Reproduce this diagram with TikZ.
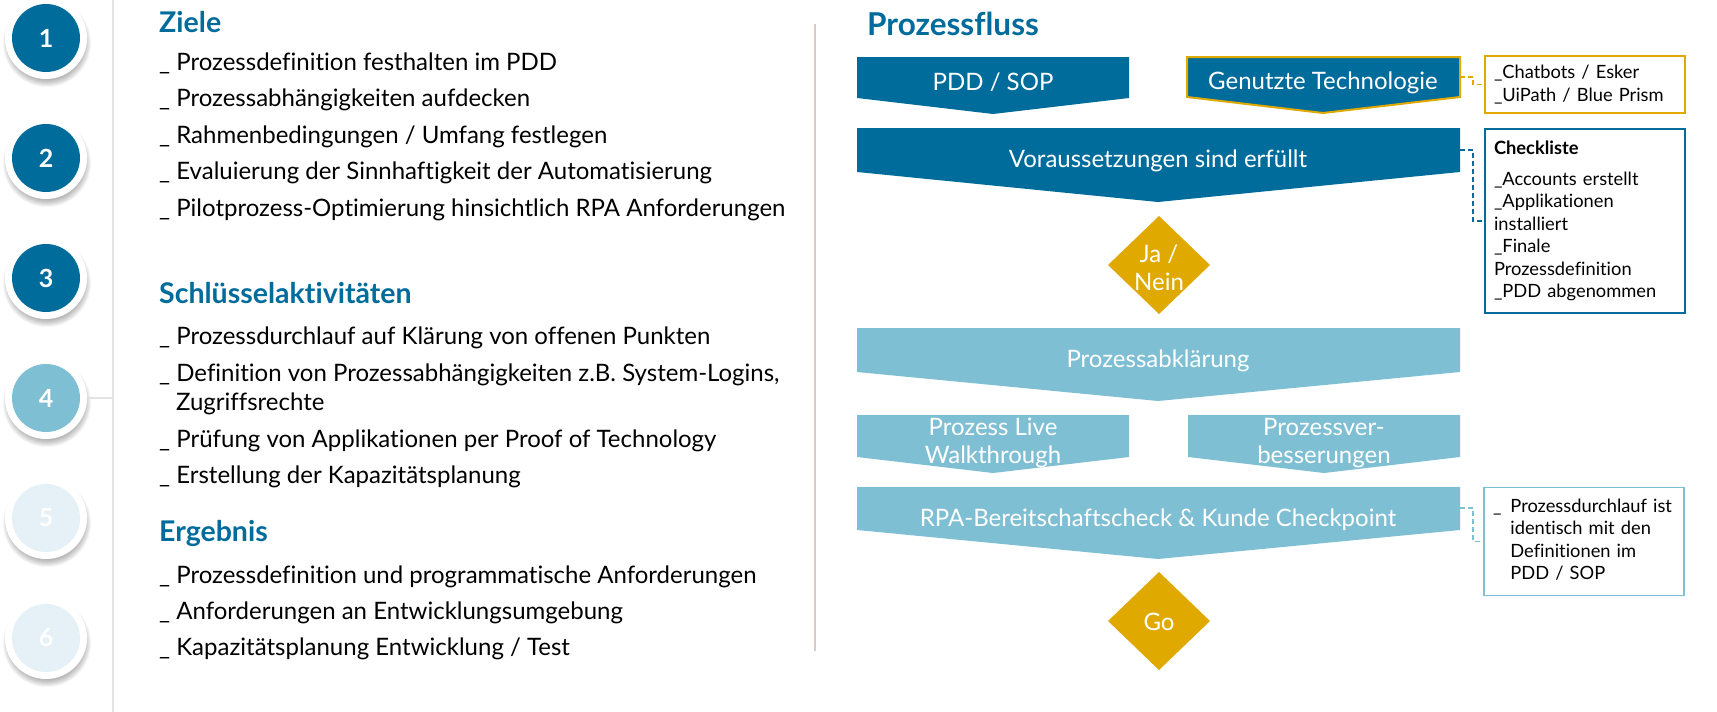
\documentclass[tikz,border=0pt]{standalone}
\usepackage{fontspec}
\setmainfont{Lato}[Ligatures=NoCommon]
\usetikzlibrary{calc}

\definecolor{dblue}{RGB}{0,108,156}
\definecolor{lblue}{RGB}{127,191,212}
\definecolor{pale}{RGB}{229,241,246}
\definecolor{gold}{RGB}{224,169,0}
\definecolor{sepline}{RGB}{214,204,192}

\begin{document}
\begin{tikzpicture}[x=1pt,y=-1pt,
  boxtext/.style={text=white, align=center, font=\fontsize{24}{28}\selectfont},
  itemtext/.style={anchor=base west, inner sep=0pt, font=\fontsize{24}{28}\selectfont},
  heading/.style={anchor=base west, inner sep=0pt, text=dblue, font=\fontsize{28.5}{32}\selectfont\bfseries},
  note/.style={line width=1.5pt, fill=white, minimum width=200pt, text width=182pt,
    inner sep=9pt, align=left, font=\fontsize{18.3}{22.5}\selectfont},
  link/.style={line width=1.5pt, dash pattern=on 5pt off 3pt}]

% the page
\useasboundingbox (0,0) rectangle (1717,712);
\fill[white] (0,0) rectangle (1717,712);

% the lines
\draw[gray!22, line width=1.5pt] (113,0) -- (113,712);
\draw[sepline, line width=2pt] (815,24) -- (815,651);

% the step circles
\foreach \n/\c in {1/dblue,2/dblue,3/dblue,4/lblue,5/pale,6/pale} {
  \coordinate (c\n) at (46,{38+120*(\n-1)});
  \foreach \k in {0,...,7}
    \fill[black, opacity=0.04] ($(c\n)+(1,5)$) circle ({37+\k});
  \fill[white] (c\n) circle (41);
  \node[circle, fill=\c, minimum size=68pt, inner sep=0pt, text=white,
    font=\fontsize{25}{28}\selectfont\bfseries] (n\n) at (c\n) {\n};
}
\draw[gray!22, line width=1.5pt] ($(c4)+(42,0)$) -- (113,398);

% Ziele
\node[heading] (ziele) at (159,32) {Ziele};
\foreach \y/\t in {70/{Prozessdefinition festhalten im PDD},
    106/{Prozessabhängigkeiten aufdecken},
    143/{Rahmenbedingungen / Umfang festlegen},
    179/{Evaluierung der Sinnhaftigkeit der Automatisierung},
    216/{Pilotprozess-Optimierung hinsichtlich RPA Anforderungen}}
  \node[itemtext] (item\y) at (159,\y) {\_ \t};

% Schluesselaktivitaeten
\node[heading] (aktiv) at (159,303) {Schlüsselaktivitäten};
\foreach \y/\t in {344/{Prozessdurchlauf auf Klärung von offenen Punkten},
    381/{Definition von Prozessabhängigkeiten z.B. System-Logins,},
    447/{Prüfung von Applikationen per Proof of Technology},
    483/{Erstellung der Kapazitätsplanung}}
  \node[itemtext] (item\y) at (159,\y) {\_ \t};
\node[itemtext] (item410) at (176,410) {Zugriffsrechte};

% Ergebnis
\node[heading] (ergebnis) at (159,541) {Ergebnis};
\foreach \y/\t in {583/{Prozessdefinition und programmatische Anforderungen},
    619/{Anforderungen an Entwicklungsumgebung},
    655/{Kapazitätsplanung Entwicklung / Test}}
  \node[itemtext] (item\y) at (159,\y) {\_ \t};

% Prozessfluss
\node[heading, font=\fontsize{31.5}{34}\selectfont\bfseries] (fluss) at (867,35) {Prozessfluss};

% dark boxes
\fill[dblue] (857,57) -- (1129,57) -- (1129,98) -- (993,114) -- (857,98) -- cycle;
\node[boxtext] (pdd) at (993,82.5) {PDD / SOP};
\filldraw[fill=dblue, draw=gold, line width=2pt] (1187,57) -- (1460,57) -- (1460,97) -- (1323,113) -- (1187,97) -- cycle;
\node[boxtext] (tech) at (1323,82.5) {Genutzte Technologie};
\coordinate (techR) at (1460,77);
\fill[dblue] (857,128) -- (1460,128) -- (1460,172) -- (1158,202) -- (857,172) -- cycle;
\node[boxtext] (cond) at (1158,161) {Voraussetzungen sind erfüllt};
\coordinate (condR) at (1460,150);

% Ja / Nein
\fill[gold] (1159,216) -- (1210,265) -- (1159,314) -- (1108,265) -- cycle;
\node[boxtext] (janein) at (1159,267.5) {Ja /\\Nein};

% light boxes
\fill[lblue] (857,328) -- (1460,328) -- (1460,372) -- (1158,401) -- (857,372) -- cycle;
\node[boxtext] (clarify) at (1158,360.5) {Prozessabklärung};
\fill[lblue] (857,415) -- (1129,415) -- (1129,457) -- (993,473) -- (857,457) -- cycle;
\node[boxtext] (live) at (993,443) {Prozess Live\\Walkthrough};
\fill[lblue] (1188,415) -- (1460,415) -- (1460,457) -- (1324,473) -- (1188,457) -- cycle;
\node[boxtext] (improve) at (1324,443) {Prozessver-\\besserungen};
\fill[lblue] (857,487) -- (1460,487) -- (1460,530) -- (1158,559) -- (857,530) -- cycle;
\node[boxtext] (ready) at (1158,519.5) {RPA-Bereitschaftscheck \& Kunde Checkpoint};
\coordinate (readyR) at (1460,508);

% Go
\fill[gold] (1159,572) -- (1210,621) -- (1159,670) -- (1108,621) -- cycle;
\node[boxtext] (go) at (1159,622) {Go};

% side notes
\node[note, draw=gold, minimum height=57pt] (chat) at (1585,84.5)
  {\_Chatbots / Esker\\\_UiPath / Blue Prism};
\node[note, draw=dblue, minimum height=184pt] (checklist) at (1585,221)
  {\textbf{Checkliste}\\[8pt]\_Accounts erstellt\\\_Applikationen\\installiert\\\_Finale\\Prozessdefinition\\\_PDD abgenommen};
\node[note, draw=lblue, minimum height=107pt] (ident) at (1584,541.5)
  {\begin{tabular}{@{}l@{\hspace{9pt}}l@{}}\_ & Prozessdurchlauf ist\\ & identisch mit den\\ & Definitionen im\\ & PDD / SOP\end{tabular}};

% links
\draw[link, gold] (techR) -- ++(13,0) |- (chat.west);
\draw[link, dblue] (condR) -- ++(13,0) |- (checklist.west);
\draw[link, lblue] (readyR) -- ++(13,0) |- (ident.west);

\end{tikzpicture}
\end{document}
